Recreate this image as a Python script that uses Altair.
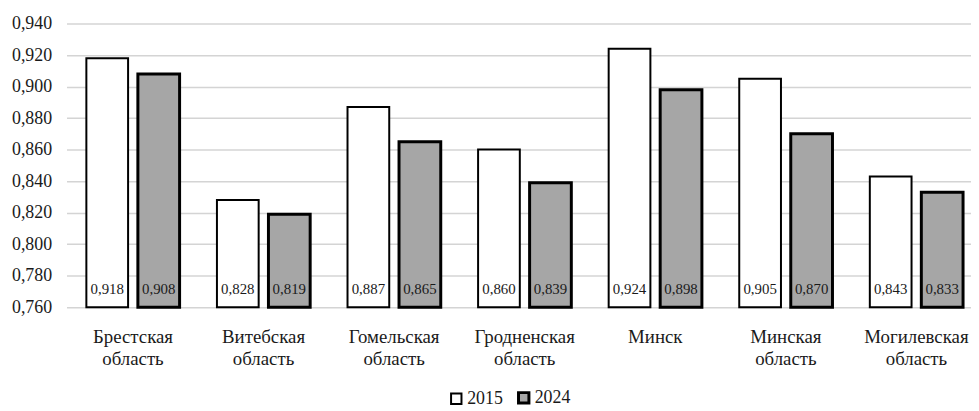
import altair as alt
import pandas as pd

regions = ["Брестская область", "Витебская область", "Гомельская область",
           "Гродненская область", "Минск", "Минская область", "Могилевская область"]
years = ["2015", "2024"]
values_2015 = [0.918, 0.828, 0.887, 0.860, 0.924, 0.905, 0.843]
values_2024 = [0.908, 0.819, 0.865, 0.839, 0.898, 0.870, 0.833]
y_ticks = [0.760, 0.780, 0.800, 0.820, 0.840, 0.860, 0.880, 0.900, 0.920, 0.940]
y_min, y_max = 0.760, 0.940

rows = []
for r, a, b in zip(regions, values_2015, values_2024):
    rows.append({"region": r, "year": "2015", "value": a, "base": y_min})
    rows.append({"region": r, "year": "2024", "value": b, "base": y_min})
df = pd.DataFrame(rows)
df["label"] = df["value"].map(lambda v: f"{v:.3f}".replace(".", ","))

FONT = "Liberation Serif, Times New Roman, serif"

x_scale = alt.Scale(range=[0, 924], paddingInner=0.286, paddingOuter=0.152)
y_scale = alt.Scale(domain=[y_min, y_max], nice=False, zero=False)
xoff_scale = alt.Scale(paddingInner=0.19, paddingOuter=0)

x_axis = alt.Axis(title=None, labelAngle=0, labelExpr="split(datum.label, ' ')",
                  labelFontSize=19, labelLineHeight=22,
                  labelPadding=21, ticks=False, domain=False, labelBaseline="top",
                  grid=False)
y_axis = alt.Axis(title=None, values=y_ticks,
                  labelExpr="replace(format(datum.value, '.3f'), '.', ',')",
                  domain=False, ticks=False, labelPadding=15,
                  labelFontSize=18,
                  gridColor="#d4d4d4", gridWidth=1.5)

bars = alt.Chart(df).mark_bar(stroke="black").encode(
    x=alt.X("region:N", sort=regions, scale=x_scale, axis=x_axis),
    xOffset=alt.XOffset("year:N", sort=years, scale=xoff_scale),
    y=alt.Y("value:Q", scale=y_scale, axis=y_axis),
    y2=alt.Y2("base:Q"),
    fill=alt.Fill("year:N", sort=years,
                  scale=alt.Scale(domain=years, range=["#ffffff", "#a6a6a6"]),
                  legend=alt.Legend(title=None, orient="none", direction="horizontal",
                                    legendX=384, legendY=368, symbolType="square",
                                    symbolSize=110, symbolStrokeColor="black",
                                    symbolStrokeWidth=2,
                                    labelFontSize=18,
                                    columnPadding=9, labelOffset=2)),
    strokeWidth=alt.StrokeWidth("year:N", scale=alt.Scale(domain=years, range=[2, 3]),
                                legend=None),
)

labels = alt.Chart(df).mark_text(dy=-18, baseline="middle", fontSize=15,
                                 color="#1a1a1a").encode(
    x=alt.X("region:N", sort=regions, scale=x_scale, axis=x_axis),
    xOffset=alt.XOffset("year:N", sort=years, scale=xoff_scale),
    y=alt.Y("base:Q", scale=y_scale, axis=y_axis),
    text="label:N",
)

chart = (
    alt.layer(bars, labels)
    .properties(
        width=912, height=286,
        padding={"left": 59, "top": 14, "right": 0, "bottom": 103},
        autosize="none",
    )
    .configure(background="white", font=FONT)
    .configure_view(stroke=None)
    .configure_axis(labelFont=FONT, labelColor="#1a1a1a")
    .configure_legend(labelFont=FONT, labelColor="#1a1a1a")
    .configure_text(font=FONT)
)

chart.save("out.html", embed_options={"renderer": "svg", "actions": False})
